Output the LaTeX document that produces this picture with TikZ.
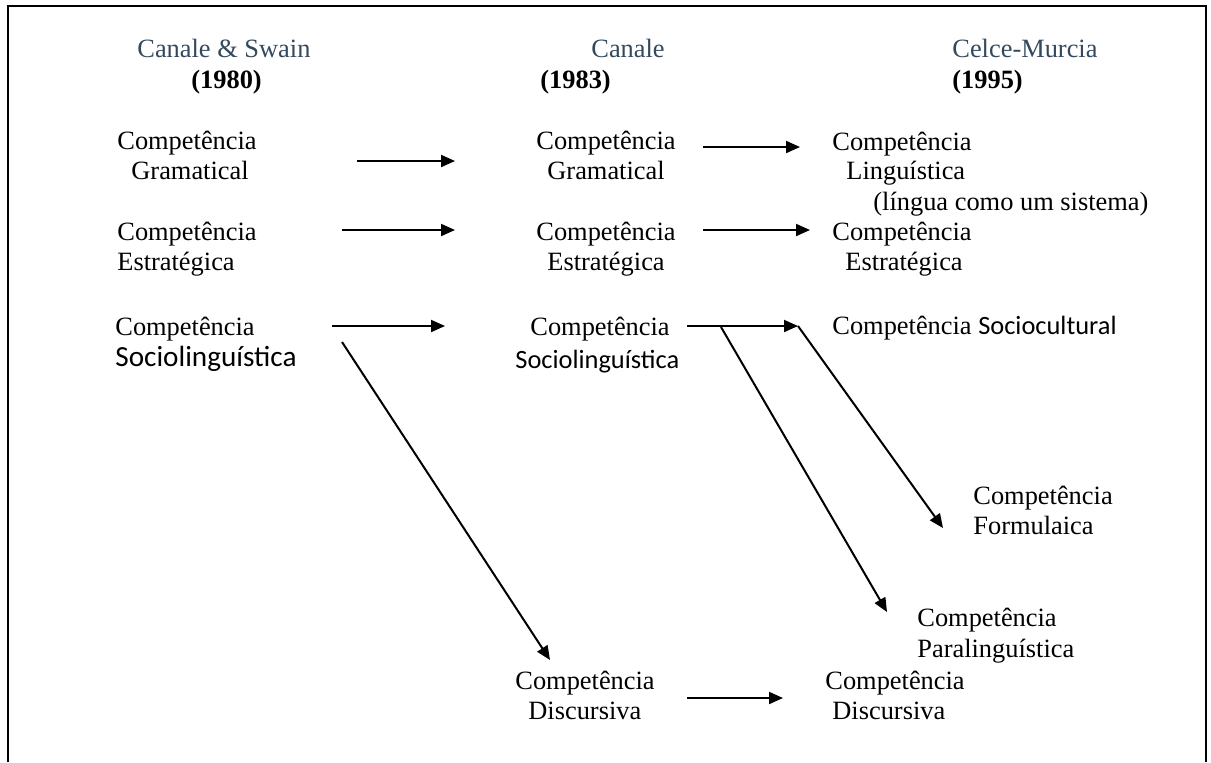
\documentclass[tikz,border=0pt]{standalone}
\usepackage{fontspec}
\setmainfont{Liberation Serif}
\newfontfamily\carlito{Carlito}
\usetikzlibrary{arrows.meta}
\definecolor{headblue}{HTML}{34495E}
\begin{document}
\begin{tikzpicture}[x=0.5pt,y=-0.5pt,
  txt/.style={anchor=base west, inner sep=0pt, font=\fontsize{13.2}{15}\selectfont},
  sanstxt/.style={anchor=base west, inner sep=0pt, font=\carlito\fontsize{13.2}{15}\selectfont},
  head/.style={txt, text=headblue},
  year/.style={txt, font=\fontsize{13.2}{15}\selectfont\bfseries},
  arr/.style={line width=1pt, -{Triangle[length=7pt,width=6pt]}},
  frame/.style={line width=1.4pt}]
\useasboundingbox (0,0) rectangle (1211,762);
% open frame: left, top and right sides
\draw[frame] (8,762) -- (8,6) -- (1206,6) -- (1206,762);

% column headings
\node[head] (h1) at (137,57) {Canale \& Swain};
\node[year] (y1) at (191,88) {(1980)};
\node[head] (h2) at (591,57) {Canale};
\node[year] (y2) at (540,88) {(1983)};
\node[head] (h3) at (952,57) {Celce-Murcia};
\node[year] (y3) at (952,88) {(1995)};

% Canale & Swain (1980)
\node[txt] (a1) at (117,149) {Competência};
\node[txt] (a1b) at (131,179) {Gramatical};
\node[txt] (a2) at (117,240) {Competência};
\node[txt] (a2b) at (117,270) {Estratégica};
\node[txt] (a3) at (115,335) {Competência};
\node[sanstxt, font=\carlito\fontsize{14.6}{17}\selectfont] (a3b) at (115,366) {Sociolinguística};

% Canale (1983)
\node[txt] (b1) at (536,149) {Competência};
\node[txt] (b1b) at (547,179) {Gramatical};
\node[txt] (b2) at (536,240) {Competência};
\node[txt] (b2b) at (547,270) {Estratégica};
\node[txt] (b3) at (530,335) {Competência};
\node[sanstxt] (b3b) at (515,368) {Sociolinguística};
\node[txt] (b4) at (515,689) {Competência};
\node[txt] (b4b) at (528,719) {Discursiva};

% Celce-Murcia (1995)
\node[txt] (c1) at (832,150) {Competência};
\node[txt] (c1b) at (846,179) {Linguística};
\node[txt] (c1c) at (873,210) {(língua como um sistema)};
\node[txt] (c2) at (832,240) {Competência};
\node[txt] (c2b) at (845,270) {Estratégica};
\node[txt] (c3) at (832,334) {Competência {\carlito Sociocultural}};
\node[txt] (c4) at (973,504) {Competência};
\node[txt] (c4b) at (973,534) {Formulaica};
\node[txt] (c5) at (917,626) {Competência};
\node[txt] (c5b) at (917,657) {Paralinguística};
\node[txt] (c6) at (825,689) {Competência};
\node[txt] (c6b) at (832,719) {Discursiva};

% arrow end points
\coordinate (p1s) at (357,161); \coordinate (p1e) at (455,161);
\coordinate (p2s) at (703,147); \coordinate (p2e) at (800,147);
\coordinate (p3s) at (342,230); \coordinate (p3e) at (455,230);
\coordinate (p4s) at (703,230); \coordinate (p4e) at (810,230);
\coordinate (p5s) at (332,326); \coordinate (p5e) at (445,326);
\coordinate (p6s) at (687,326); \coordinate (p6e) at (798,326);
\coordinate (d1s) at (342,342); \coordinate (d1e) at (550,660);
\coordinate (d2s) at (721,327); \coordinate (d2e) at (887,612);
\coordinate (d3e) at (943,528);
\coordinate (p7s) at (687,698); \coordinate (p7e) at (783,698);

% connectors
\draw[arr] (p1s) -- (p1e);
\draw[arr] (p2s) -- (p2e);
\draw[arr] (p3s) -- (p3e);
\draw[arr] (p4s) -- (p4e);
\draw[arr] (p5s) -- (p5e);
\draw[arr] (p6s) -- (p6e);
\draw[arr] (d1s) -- (d1e);
\draw[arr] (d2s) -- (d2e);
\draw[arr] (p6e) -- (d3e);
\draw[arr] (p7s) -- (p7e);
\end{tikzpicture}
\end{document}
